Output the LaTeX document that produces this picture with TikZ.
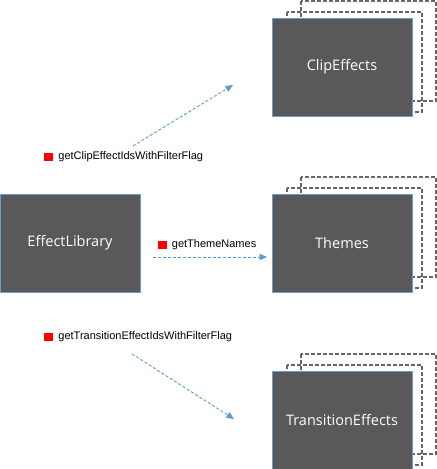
\documentclass[tikz,border=0pt]{standalone}
\usepackage{fontspec}
\setmainfont{Liberation Sans}
\newfontfamily\boxfont{Open Sans}
\usetikzlibrary{positioning,arrows.meta}
\definecolor{boxgray}{HTML}{595959}
\definecolor{boxedge}{HTML}{6F9BCF}
\definecolor{callblue}{HTML}{5B9BD5}
\definecolor{stackgray}{HTML}{666666}
\tikzset{
  module/.style={draw=boxedge,fill=boxgray,line width=0.9bp,minimum width=140bp,minimum height=98bp,inner sep=0pt,text=white,font=\boxfont\fontsize{14.5bp}{17bp}\selectfont},
  stack/.style={draw=stackgray,line width=1.3bp,dash pattern=on 4bp off 2bp},
  call/.style={draw=callblue,line width=0.9bp,dash pattern=on 3bp off 2bp,-{Triangle[length=7.5bp,width=6.5bp]}},
  bullet/.style={fill=red,minimum width=9bp,minimum height=8bp,inner sep=0pt},
  method/.style={font=\fontsize{11bp}{13bp}\selectfont,inner sep=0pt}
}
\begin{document}
\begin{tikzpicture}[x=1bp,y=-1bp]
  \useasboundingbox (0,0) rectangle (437,469);
  % stacked copies behind the modules
  \foreach \y in {67,243,420} {
    \draw[stack] (301,\y-66) rectangle (436,\y+34);
    \draw[stack] (287,\y-55) rectangle (422,\y+45);
  }
  \node (lib) at (70,243) [module] {EffectLibrary};
  \node (clip) at (342,67) [module] {ClipEffects};
  \node (themes) at (342,243) [module] {Themes};
  \node (trans) at (342,420) [module] {TransitionEffects};
  \node (clipmark) at (48.5,157) [bullet] {};
  \node (clipcall) [method,right=5bp of clipmark] {getClipEffectIdsWithFilterFlag};
  \node (thememark) at (162,245) [bullet] {};
  \node (themecall) [method,right=5bp of thememark] {getThemeNames};
  \node (transmark) at (48.5,337) [bullet] {};
  \node (transcall) [method,right=5bp of transmark] {getTransitionEffectIdsWithFilterFlag};
  \coordinate (clipfrom) at (133,146);
  \coordinate (clipto) at (233,85);
  \coordinate (themefrom) at (153,257);
  \coordinate (themeto) at (267,257);
  \coordinate (transfrom) at (132,354);
  \coordinate (transto) at (234,419);
  \draw [call] (clipfrom) -- (clipto);
  \draw [call] (themefrom) -- (themeto);
  \draw [call] (transfrom) -- (transto);
\end{tikzpicture}
\end{document}
